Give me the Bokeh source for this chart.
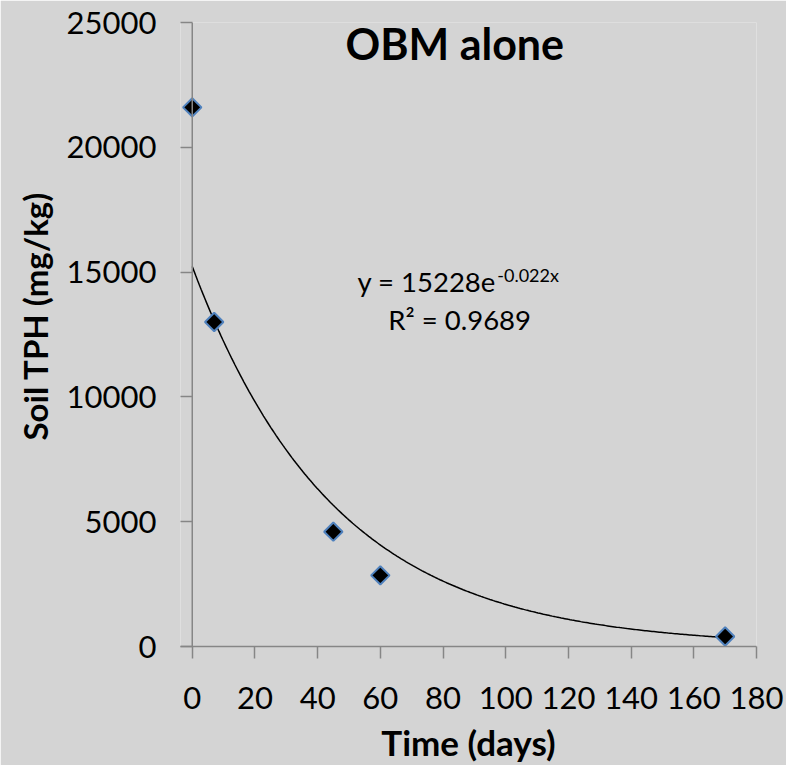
import numpy as np
from bokeh.plotting import figure
from bokeh.models import FixedTicker, Label, Range1d, Span, Title
from bokeh.embed import file_html
from bokeh.resources import INLINE

# Data
days = [0, 7, 45, 60, 170]
tph = [21600, 13000, 4600, 2850, 400]

# Exponential trendline parameters shown on the chart
fit_a = 15228
fit_k = -0.022
fit_r2 = 0.9689

x_ticks = [0, 20, 40, 60, 80, 100, 120, 140, 160, 180]
y_ticks = [0, 5000, 10000, 15000, 20000, 25000]

bg = "#d4d4d4"
axis_col = "#868686"
font = "Lato"

p = figure(width=786, height=765,
           x_range=Range1d(-3.75, 180), y_range=Range1d(0, 25000),
           output_backend="svg", toolbar_location=None,
           min_border_left=180, min_border_right=30,
           min_border_top=22, min_border_bottom=118)
p.background_fill_color = bg
p.border_fill_color = bg
p.outline_line_color = None
p.xgrid.visible = False
p.ygrid.visible = False

for ax in (p.xaxis, p.yaxis):
    ax.axis_line_color = axis_col
    ax.axis_line_width = 1.5
    ax.major_tick_line_color = axis_col
    ax.major_tick_line_width = 1.5
    ax.minor_tick_line_color = None
    ax.major_label_text_font = font
    ax.major_label_text_font_size = "31px"
    ax.major_label_text_color = "black"
    ax.axis_label_text_font = font
    ax.axis_label_text_font_style = "bold"
    ax.axis_label_text_font_size = "35px"
    ax.axis_label_text_color = "black"

# x axis: ticks hang below the line
p.xaxis.ticker = FixedTicker(ticks=x_ticks)
p.xaxis.major_tick_in = 0
p.xaxis.major_tick_out = 12
p.xaxis.major_label_standoff = 28
p.xaxis.axis_label = "Time (days)"
p.xaxis.axis_label_standoff = 9

# y axis sits at the frame edge; its ticks run in to the x = 0 line
p.yaxis.ticker = FixedTicker(ticks=y_ticks)
p.yaxis.axis_line_color = None
p.yaxis.major_tick_in = 12
p.yaxis.major_tick_out = 0
p.yaxis.major_label_standoff = 24

# vertical axis line at x = 0
p.add_layout(Span(location=0, dimension="height",
                  line_color=axis_col, line_width=1.5))

# y axis title (a little above centre, as in the reference)
p.add_layout(Title(text="Soil TPH (mg/kg)", align="left", offset=206,
                   standoff=18, text_font=font, text_font_style="bold",
                   text_font_size="33px", text_color="black"), "left")

# Trendline
xf = np.linspace(0, max(days), 300)
yf = fit_a * np.exp(fit_k * xf)
p.line(xf, yf, line_color="black", line_width=1.5)

# Data markers (diamonds)
p.scatter(days, tph, marker="square", angle=np.pi / 4, size=13,
          fill_color="black", line_color="#4f81bd", line_width=2)

# Title
p.add_layout(Label(x=83.75, y=24177, text="OBM alone", text_font=font,
                   text_font_style="bold", text_font_size="43px",
                   text_align="center", text_baseline="middle",
                   text_color="black"))

# Equation
p.add_layout(Label(x=96.9, y=14616, text=f"y = {fit_a}e", text_font=font,
                   text_font_size="27.5px", text_align="right",
                   text_baseline="middle", text_color="black"))
p.add_layout(Label(x=97.3, y=14900, text=f"{fit_k}x", text_font=font,
                   text_font_size="18px", text_align="left",
                   text_baseline="middle", text_color="black"))
p.add_layout(Label(x=85.3, y=13115, text=f"R\u00b2 = {fit_r2}", text_font=font,
                   text_font_size="27.5px", text_align="center",
                   text_baseline="middle", text_color="black"))

open("out.html", "w").write(file_html(p, INLINE))
